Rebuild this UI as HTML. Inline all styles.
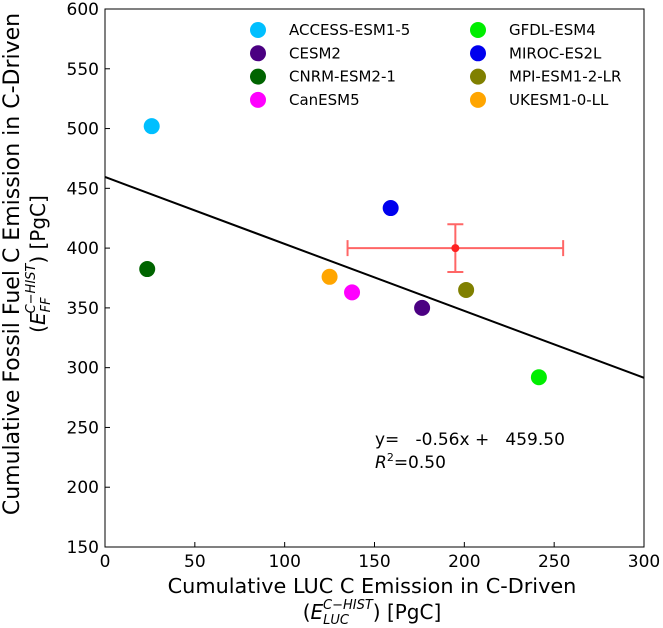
<!DOCTYPE html>
<html><head><meta charset="utf-8"><style>
body{margin:0;background:#fff;overflow:hidden;}
svg{display:block;font-family:"DejaVu Sans","Liberation Sans",sans-serif;}
</style></head><body>
<svg id="chart" width="663" height="628">
  <text x="372" y="593" text-anchor="middle" font-size="20.8">Cumulative LUC C Emission in C-Driven</text>
  <text x="372" y="619" text-anchor="middle" font-size="20">(<tspan font-style="italic">E</tspan><tspan font-size="13" font-style="italic" dy="5">LUC</tspan><tspan font-size="13" font-style="italic" dx="-26" dy="-15">C−HIST</tspan><tspan dy="10">) [PgC]</tspan></text>
  <g transform="translate(19,264) rotate(-90)">
    <text x="0" y="0" text-anchor="middle" font-size="22">Cumulative Fossil Fuel C Emission in C-Driven</text>
    <text x="0" y="26" text-anchor="middle" font-size="20">(<tspan font-style="italic">E</tspan><tspan font-size="13" font-style="italic" dy="5">FF</tspan><tspan font-size="13" font-style="italic" dx="-16" dy="-15">C−HIST</tspan><tspan dy="10">) [PgC]</tspan></text>
  </g>
  <text x="375" y="445" font-size="17" xml:space="preserve">y=   -0.56x +   459.50</text>
  <text x="375" y="468" font-size="17"><tspan font-style="italic">R</tspan><tspan font-size="11" dy="-7">2</tspan><tspan dy="7">=0.50</tspan></text>
</svg>
<script>
const models=["ACCESS-ESM1-5","CESM2","CNRM-ESM2-1","CanESM5","GFDL-ESM4","MIROC-ES2L","MPI-ESM1-2-LR","UKESM1-0-LL"];
const colors=["#00bfff","#4b0082","#006400","#ff00ff","#00ee00","#0000ee","#808000","#ffa500"];
const lucValues=[26,176.5,23.5,137.5,241.5,159,201,125];
const ffValues=[502,350,382.5,363,292,433.5,365,376];
const obsX=[195], obsY=[400], obsXErr=[60], obsYErr=[20];
const slope=-0.56, intercept=459.5;
const xTicks=[0,50,100,150,200,250,300];
const yTicks=[150,200,250,300,350,400,450,500,550,600];

const NS="http://www.w3.org/2000/svg";
const svg=document.getElementById('chart');
const L=105,R=644,T=9,B=547;
const sx=v=>L+(v-0)/300*(R-L);
const sy=v=>B-(v-150)/450*(B-T);
function mk(tag,attrs,parent){const e=document.createElementNS(NS,tag);for(const k in attrs)e.setAttribute(k,attrs[k]);(parent||svg).appendChild(e);return e;}

const frame=mk('rect',{x:L,y:T,width:R-L,height:B-T,fill:'none',stroke:'#000','stroke-width':1});



xTicks.forEach(t=>{
  const ln=mk('line',{x1:sx(t),x2:sx(t),y1:B,y2:B-5,stroke:'#000'});
  
  
  const tx=mk('text',{x:sx(t),y:B+20,'text-anchor':'middle','font-size':17});
  tx.textContent=t;
  
  
});
yTicks.forEach(t=>{
  const ln=mk('line',{x1:L,x2:L+5,y1:sy(t),y2:sy(t),stroke:'#000'});
  
  
  const tx=mk('text',{x:L-6,y:sy(t)+6,'text-anchor':'end','font-size':17});
  tx.textContent=t;
  
  
});

const reg=mk('line',{x1:sx(0),y1:sy(intercept),x2:sx(300),y2:sy(intercept+slope*300),stroke:'#000','stroke-width':2});



models.forEach((m,i)=>{
  const c=mk('circle',{cx:sx(lucValues[i]),cy:sy(ffValues[i]),r:8,fill:colors[i]});
  
  
});

obsX.forEach((x,i)=>{
  const g=mk('g',{stroke:'#ff6666','stroke-width':2});
  
  
  const y=obsY[i];
  mk('line',{x1:sx(x-obsXErr[i]),x2:sx(x+obsXErr[i]),y1:sy(y),y2:sy(y)},g);
  mk('line',{x1:sx(x-obsXErr[i]),x2:sx(x-obsXErr[i]),y1:sy(y)-8,y2:sy(y)+8},g);
  mk('line',{x1:sx(x+obsXErr[i]),x2:sx(x+obsXErr[i]),y1:sy(y)-8,y2:sy(y)+8},g);
  mk('line',{x1:sx(x),x2:sx(x),y1:sy(y-obsYErr[i]),y2:sy(y+obsYErr[i])},g);
  mk('line',{x1:sx(x)-8,x2:sx(x)+8,y1:sy(y-obsYErr[i]),y2:sy(y-obsYErr[i])},g);
  mk('line',{x1:sx(x)-8,x2:sx(x)+8,y1:sy(y+obsYErr[i]),y2:sy(y+obsYErr[i])},g);
  const d=mk('circle',{cx:sx(x),cy:sy(y),r:4,fill:'#ff2222',stroke:'none'});
  
  
});

models.forEach((m,i)=>{
  const col=Math.floor(i/4),row=i%4;
  const mx=col?478:258,my=30+row*23.3;
  const c=mk('circle',{cx:mx,cy:my,r:8,fill:colors[i]});
  
  
  const t=mk('text',{x:mx+31,y:my+5,'font-size':15});
  t.textContent=m;
  
  
});
</script>
</body></html>
